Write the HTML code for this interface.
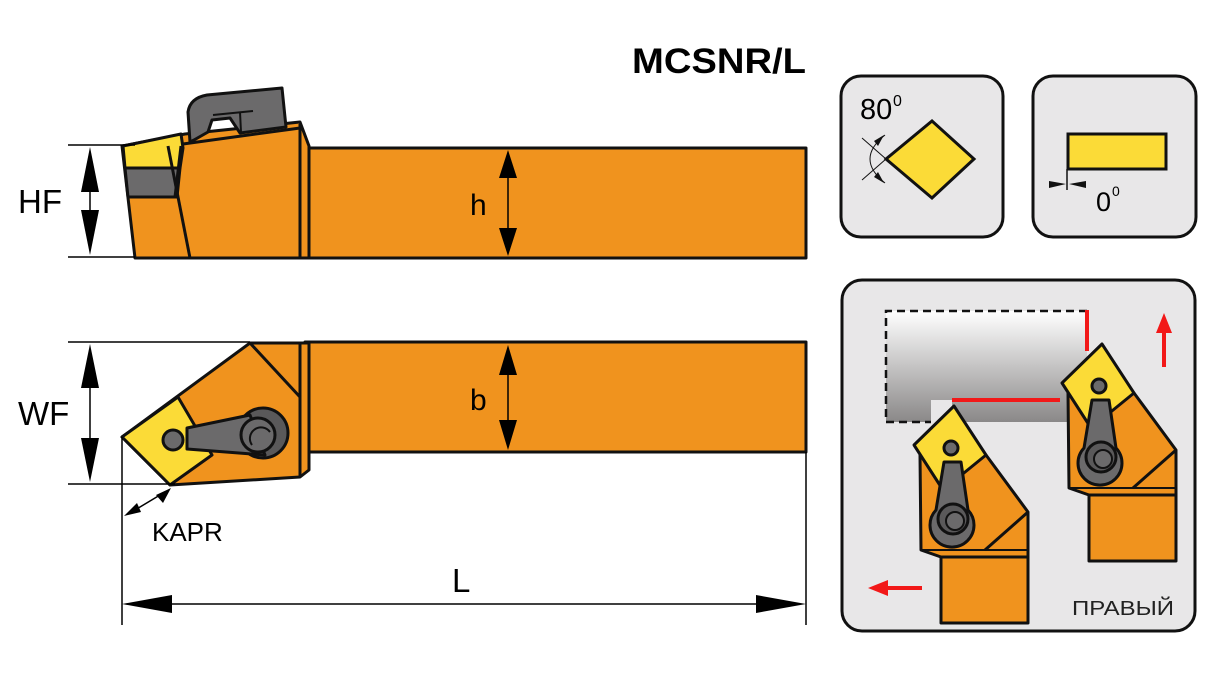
<!DOCTYPE html>
<html><head><meta charset="utf-8"><style>
html,body{margin:0;padding:0;background:#fff;}
svg{display:block;}
text{font-family:"Liberation Sans",sans-serif;}
</style></head><body>
<svg width="1226" height="678" viewBox="0 0 1226 678" xmlns="http://www.w3.org/2000/svg">
<defs>
<linearGradient id="g" x1="0" y1="0" x2="0" y2="1">
<stop offset="0" stop-color="#ffffff"/><stop offset="1" stop-color="#8a8888"/>
</linearGradient>
<g id="tool" stroke="#111" stroke-width="3" stroke-linejoin="round">
<polygon points="941,557 1028,557 1028,623 941,623" fill="#f0931e"/>
<polygon points="920,455 986,455 1028,512 1028,557 941,557 921,550" fill="#f0931e"/>
<line x1="921" y1="550" x2="1028" y2="550" stroke-width="2"/>
<line x1="985" y1="550" x2="1028" y2="512"/>
<polygon points="914,445 954,406 986,455 943,490" fill="#fbdb37"/>
<circle cx="951" cy="448" r="7" fill="#6b6a6b"/>
<path d="M944,462 L961,462 L968,510 A22,22 0 1 1 936,510 Z" fill="#6b6a6b"/>
<circle cx="953" cy="519" r="15" fill="#5a595a"/>
<circle cx="955" cy="521" r="9" fill="#6b6a6b" stroke-width="2"/>
</g>
</defs>

<!-- title -->
<text x="632" y="73" font-size="35" font-weight="bold" textLength="174" lengthAdjust="spacingAndGlyphs">MCSNR/L</text>

<!-- ===== Side view ===== -->
<g stroke="#111" stroke-width="3" stroke-linejoin="round">
<rect x="305" y="148" width="501" height="110" fill="#f0931e"/>
<polygon points="122,146 185,134 300,122 309,146 309,258 135,258" fill="#f0931e"/>
<polygon points="123,146 181,134 183,148 180,168 125,168" fill="#fbdb37"/>
<polygon points="125,168 180,168 177,197 128,197" fill="#6b6a6b"/>
<line x1="168" y1="146" x2="190" y2="258"/>
<line x1="181" y1="146" x2="175" y2="197"/>
<line x1="300" y1="124" x2="300" y2="258"/>
<line x1="183" y1="144" x2="300" y2="128"/>
<path d="M190,142 L188,112 Q190,98 207,95 L282,88 L286,127 L240,133 L230,118 L212,120 L208,132 L194,140 Z" fill="#6b6a6b"/>
<path d="M213,115 L253,111 M240,112 L241,132" fill="none" stroke-width="2"/>
</g>
<g stroke="#000" stroke-width="1.5">
<line x1="68" y1="145" x2="135" y2="145"/><line x1="68" y1="257" x2="135" y2="257"/>
<line x1="90" y1="160" x2="90" y2="240"/>
<line x1="508" y1="160" x2="508" y2="245"/>
</g>
<polygon points="90,147 81,192 99,192" fill="#000"/><polygon points="90,255 81,210 99,210" fill="#000"/>
<polygon points="508,150 499,178 517,178" fill="#000"/><polygon points="508,256 499,228 517,228" fill="#000"/>
<text x="18" y="213" font-size="33">HF</text>
<text x="470" y="215" font-size="30">h</text>

<!-- ===== Top view ===== -->
<g stroke="#111" stroke-width="3" stroke-linejoin="round">
<rect x="305" y="342" width="501" height="110" fill="#f0931e"/>
<polygon points="122,437 250,343 309,343 309,470 300,477 170,485" fill="#f0931e"/>
<line x1="300" y1="343" x2="300" y2="477"/>
<line x1="250" y1="343" x2="300" y2="397"/>
<polygon points="122,437 178,397 212,455 170,485" fill="#fbdb37"/>
<circle cx="173" cy="440" r="10" fill="#6b6a6b"/>
<circle cx="263" cy="433" r="25" fill="#5a595a"/>
<path d="M187,428 L250,415 L265,455 L187,449 Z" fill="#6b6a6b"/>
<circle cx="258" cy="435" r="17" fill="#6b6a6b"/>
<path d="M252,445 A10,10 0 0 1 270,432" fill="none" stroke-width="2"/>
</g>
<g stroke="#000" stroke-width="1.5">
<line x1="68" y1="342" x2="250" y2="342"/><line x1="68" y1="484" x2="175" y2="484"/>
<line x1="90" y1="360" x2="90" y2="465"/>
<line x1="508" y1="360" x2="508" y2="435"/>
<line x1="122" y1="437" x2="122" y2="625"/><line x1="806" y1="452" x2="806" y2="625"/>
<line x1="150" y1="604" x2="780" y2="604"/>
<line x1="130" y1="513" x2="165" y2="492"/>
</g>
<polygon points="90,344 81,388 99,388" fill="#000"/><polygon points="90,482 81,438 99,438" fill="#000"/>
<polygon points="508,345 499,375 517,375" fill="#000"/><polygon points="508,450 499,420 517,420" fill="#000"/>
<polygon points="122,604 172,595 172,613" fill="#000"/><polygon points="806,604 756,595 756,613" fill="#000"/>
<polygon points="124,516 137,503 141,512" fill="#000"/><polygon points="171,488 156,495 163,503" fill="#000"/>
<text x="18" y="425" font-size="33">WF</text>
<text x="470" y="410" font-size="30">b</text>
<text x="452" y="592" font-size="33">L</text>
<text x="152" y="541" font-size="26">KAPR</text>

<!-- ===== Panels ===== -->
<rect x="841" y="76" width="162" height="161" rx="20" fill="#e8e7e8" stroke="#111" stroke-width="3"/>
<rect x="1033" y="76" width="163" height="161" rx="20" fill="#e8e7e8" stroke="#111" stroke-width="3"/>
<text x="860" y="119" font-size="29">80</text><text x="893" y="106" font-size="16">0</text>
<polygon points="886,159 932,121 974,159 932,198" fill="#fbdb37" stroke="#111" stroke-width="3"/>
<g stroke="#111" stroke-width="1" fill="none">
<line x1="862" y1="138" x2="886" y2="159"/><line x1="862" y1="180" x2="886" y2="159"/>
<path d="M885,135 Q855,159 885,183"/>
</g>
<polygon points="884,135 874,141 878,146" fill="#111"/><polygon points="884,183 874,177 878,172" fill="#111"/>
<rect x="1068" y="134" width="98" height="35" fill="#fbdb37" stroke="#111" stroke-width="3"/>
<line x1="1067" y1="169" x2="1067" y2="190" stroke="#111" stroke-width="1.5"/>
<polygon points="1049,181 1066,184 1049,188" fill="#111"/><polygon points="1086,181 1069,184 1086,188" fill="#111"/>
<text x="1096" y="211" font-size="27">0</text><text x="1112" y="196" font-size="14">0</text>

<rect x="842" y="280" width="353" height="351" rx="20" fill="#e8e7e8" stroke="#111" stroke-width="3"/>
<rect x="886" y="311" width="201" height="111" fill="url(#g)"/>
<path d="M1087,311 L886,311 L886,422 L931,422" fill="none" stroke="#111" stroke-width="2.5" stroke-dasharray="8,5"/>
<line x1="1087" y1="310" x2="1087" y2="351" stroke="#f21818" stroke-width="4"/>
<line x1="952" y1="400" x2="1060" y2="400" stroke="#f21818" stroke-width="4"/>
<rect x="931" y="400" width="21" height="30" fill="#e8e7e8"/>
<use href="#tool"/>
<use href="#tool" transform="translate(148,-62)"/>
<line x1="1164" y1="330" x2="1164" y2="367" stroke="#f21818" stroke-width="4"/>
<polygon points="1164,313 1156,333 1172,333" fill="#f21818"/>
<line x1="885" y1="588" x2="922" y2="588" stroke="#f21818" stroke-width="4"/>
<polygon points="868,588 888,580 888,596" fill="#f21818"/>
<text x="1072" y="615" font-size="20" fill="#222" textLength="102" lengthAdjust="spacingAndGlyphs">ПРАВЫЙ</text>
</svg>
</body></html>
